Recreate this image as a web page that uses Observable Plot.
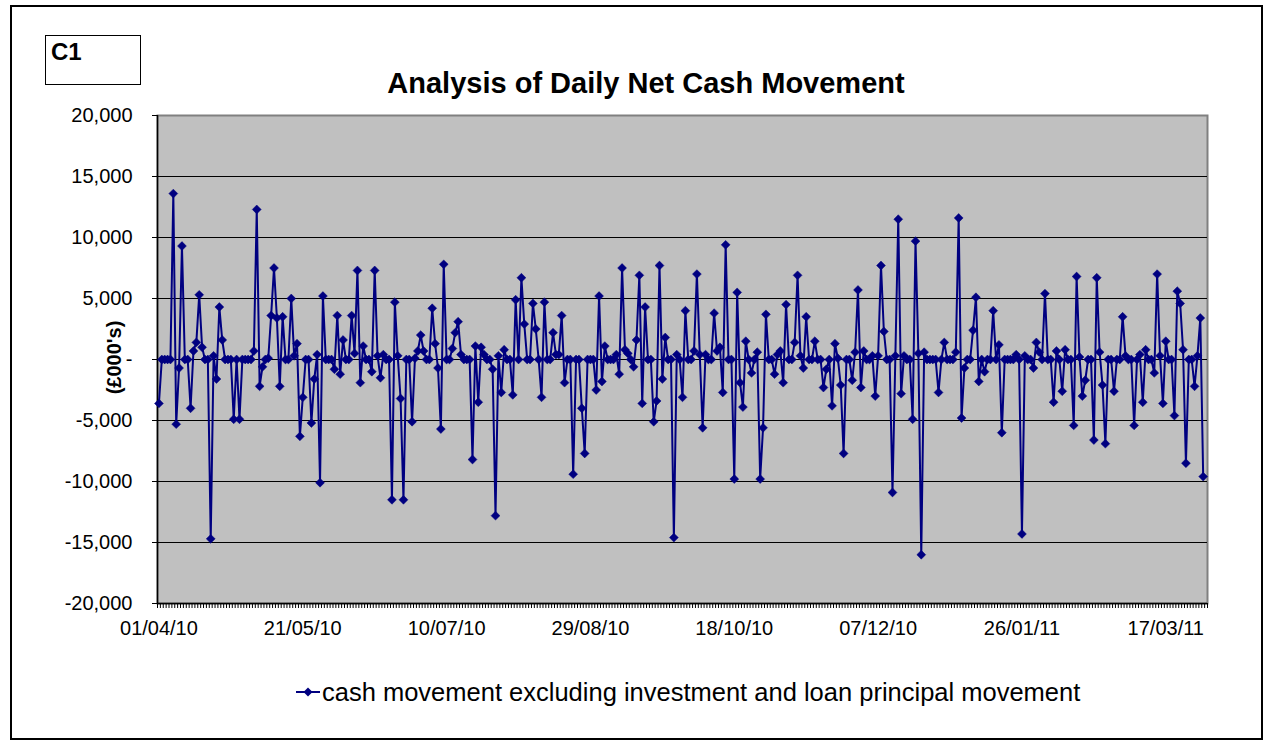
<!DOCTYPE html>
<html>
<head>
<meta charset="utf-8">
<script src="https://cdn.jsdelivr.net/npm/d3@7"></script>
<script src="https://cdn.jsdelivr.net/npm/@observablehq/plot@0.6"></script>
<style>
  html, body { margin: 0; padding: 0; background: #fff; }
  #wrap { position: relative; width: 1265px; height: 742px; overflow: hidden; font-family: "Liberation Sans", Arial, sans-serif; color: #000; }
  #border { position: absolute; left: 10px; top: 5px; width: 1253px; height: 735px; box-sizing: border-box; border: 2px solid #000; }
  #c1 { position: absolute; left: 45px; top: 35px; width: 96px; height: 50px; box-sizing: border-box; border: 1px solid #000; font-weight: bold; font-size: 24px; padding: 4px 0 0 5px; line-height: 1; }
  #title { position: absolute; left: 0; width: 1292px; top: 69px; text-align: center; font-weight: bold; font-size: 29px; line-height: 1; }
  #chart { position: absolute; left: 0; top: 0; }
  #legend { position: absolute; left: 296px; top: 677px; height: 30px; display: flex; align-items: center; font-size: 25.5px; white-space: nowrap; }
  #legend svg { margin-right: 2px; }
</style>
</head>
<body>
<div id="wrap">
  <div id="border"></div>
  <div id="c1">C1</div>
  <div id="title">Analysis of Daily Net Cash Movement</div>
  <div id="chart"></div>
  <div id="legend"></div>
</div>
<script>
// ---- data ----
const startDate = "2010-04-01";   // first day of the daily series
const seriesName = "cash movement excluding investment and loan principal movement";
const yTitle = "(£000's)";
const values = [
  -3600, 0, 0, 0, 0, 13600, -5300, -700, 9300, 0,
  0, -4000, 700, 1400, 5300, 1000, 0, 0, -14700, 300,
  -1600, 4300, 1600, 0, 0, 0, -4900, 0, -4900, 0,
  0, 0, 0, 700, 12300, -2200, -600, 0, 100, 3600,
  7500, 3400, -2200, 3500, 0, 0, 5000, 300, 1300, -6300,
  -3100, 0, 0, -5200, -1600, 400, -10100, 5200, 0, 0,
  0, -800, 3600, -1200, 1600, 0, 0, 3600, 500, 7300,
  -1900, 1100, 0, 0, -1000, 7300, 300, -1500, 400, 0,
  0, -11500, 4700, 300, -3200, -11500, 0, 0, -5100, 100,
  700, 2000, 700, 0, 0, 4200, 1300, -700, -5700, 7800,
  0, 0, 900, 2200, 3100, 400, 0, 0, 0, -8200,
  1100, -3500, 1000, 400, 0, 0, -800, -12800, 300, -2700,
  800, 0, 0, -2900, 4900, 0, 6700, 2900, 0, 0,
  4600, 2500, 0, -3100, 4700, 0, 0, 2200, 400, 400,
  3600, -1900, 0, 0, -9400, 0, 0, -4000, -7700, 0,
  0, 0, -2500, 5200, -1800, 1100, 0, 0, 0, 400,
  -1200, 7500, 800, 500, 0, -600, 1600, 6900, -3600, 4300,
  0, 0, -5100, -3400, 7700, -1600, 1800, 0, 0, -14600,
  400, 0, -3100, 4000, 0, 0, 700, 7000, 400, -5600,
  400, 0, 0, 3800, 700, 1000, -2700, 9400, 0, 0,
  -9800, 5500, -1900, -3900, 1500, 0, -1100, 0, 600, -9800,
  -5600, 3700, 0, 0, -1200, 400, 700, -1900, 4500, 0,
  0, 1400, 6900, 300, -700, 3500, 0, 0, 1500, 0,
  0, -2300, -800, 0, -3800, 1300, 100, -2100, -7700, 0,
  0, -1700, 600, 5700, -2300, 700, 0, 0, 300, -3000,
  300, 7700, 2300, 0, 0, -10900, 300, 11500, -2800, 300,
  0, 0, -4900, 9700, 500, -16000, 600, 0, 0, 0,
  0, -2700, 0, 1400, 0, 0, 0, 600, 11600, -4800,
  -700, 0, 0, 2400, 5100, -1800, 0, -1000, 0, 0,
  4000, 0, 1200, -6000, 0, 0, 0, 0, 400, 0,
  -14300, 300, 0, 0, -700, 1400, 600, 0, 5400, 0,
  0, -3500, 700, 0, -2600, 800, 0, 0, -5400, 6800,
  200, -3000, -1700, 0, 0, -6600, 6700, 600, -2100, -6900,
  0, 0, -2600, 0, 0, 3500, 300, 0, 0, -5400,
  0, 400, -3500, 800, 0, 0, -1100, 7000, 300, -3600,
  1500, 0, 0, -4600, 5600, 4600, 800, -8500, 0, 0,
  -2200, 300, 3400, -9600
];
const xTickLabels = ["01/04/10", "21/05/10", "10/07/10", "29/08/10", "18/10/10", "07/12/10", "26/01/11", "17/03/11"];
const yTicks = [-20000, -15000, -10000, -5000, 0, 5000, 10000, 15000, 20000];
const axisStart = "2010-04-01";
const axisEnd = "2011-04-01";

// ---- build ----
const parseDMY = s => { const [d, m, y] = s.split("/").map(Number); return new Date(Date.UTC(2000 + y, m - 1, d)); };
const day0 = new Date(startDate + "T00:00:00Z");
const HALF = 12 * 3600 * 1000;
const data = values.map((v, i) => ({ date: new Date(d3.utcDay.offset(day0, i).getTime() + HALF), value: v }));
const x0 = new Date(axisStart + "T00:00:00Z"), x1 = new Date(axisEnd + "T00:00:00Z");
const dayTicks = d3.utcDay.range(x0, d3.utcDay.offset(x1, 1));
const labels = xTickLabels.map(s => ({ date: new Date(parseDMY(s).getTime() + HALF), text: s }));
const fmtY = d => d === 0 ? "-" : (d < 0 ? "-" : "") + d3.format(",")(Math.abs(d));

const navy = "#000080";
const chart = Plot.plot({
  width: 1265,
  height: 742,
  marginLeft: 157,
  marginRight: 58,
  marginTop: 115,
  marginBottom: 139,
  style: { background: "transparent", fontFamily: "'Liberation Sans', Arial, sans-serif", fontSize: "20px", color: "#000", overflow: "visible" },
  x: { type: "utc", domain: [x0, x1] },
  y: { domain: [-20000, 20000] },
  marks: [
    Plot.frame({ fill: "#c0c0c0", stroke: "#808080", strokeWidth: 2 }),
    Plot.gridY(yTicks.filter(d => d > -20000 && d < 20000), { stroke: "#000", strokeOpacity: 1, strokeWidth: 1 }),
    Plot.axisX(dayTicks, { tickSize: 5, tickFormat: () => "", stroke: "#000", strokeWidth: 1 }),
    Plot.axisY(yTicks, { tickSize: 5, tickPadding: 20, tickFormat: fmtY, fontSize: 20, label: null }),
    Plot.ruleY([-20000], { stroke: "#000", strokeWidth: 1.5 }),
    Plot.ruleX([x0], { stroke: "#000", strokeWidth: 1.5 }),
    Plot.text(labels, { x: "date", text: "text", frameAnchor: "bottom", dy: 31, fontSize: 20 }),
    Plot.text([yTitle], { frameAnchor: "left", textAnchor: "middle", lineAnchor: "middle", dx: -43, dy: -2, rotate: -90, fontWeight: "bold", fontSize: 20 }),
    Plot.line(data, { x: "date", y: "value", stroke: navy, strokeWidth: 2 }),
    Plot.dot(data, { x: "date", y: "value", symbol: "diamond2", r: 4, fill: navy, stroke: navy, strokeWidth: 0.5 })
  ]
});
document.getElementById("chart").appendChild(chart);

// legend swatch
document.getElementById("legend").innerHTML =
  `<svg width="24" height="12" viewBox="0 0 24 12"><line x1="0" y1="6" x2="24" y2="6" stroke="${navy}" stroke-width="2"/><path d="M12 1.5 L16.5 6 L12 10.5 L7.5 6 Z" fill="${navy}"/></svg><span>${seriesName}</span>`;
</script>
</body>
</html>
